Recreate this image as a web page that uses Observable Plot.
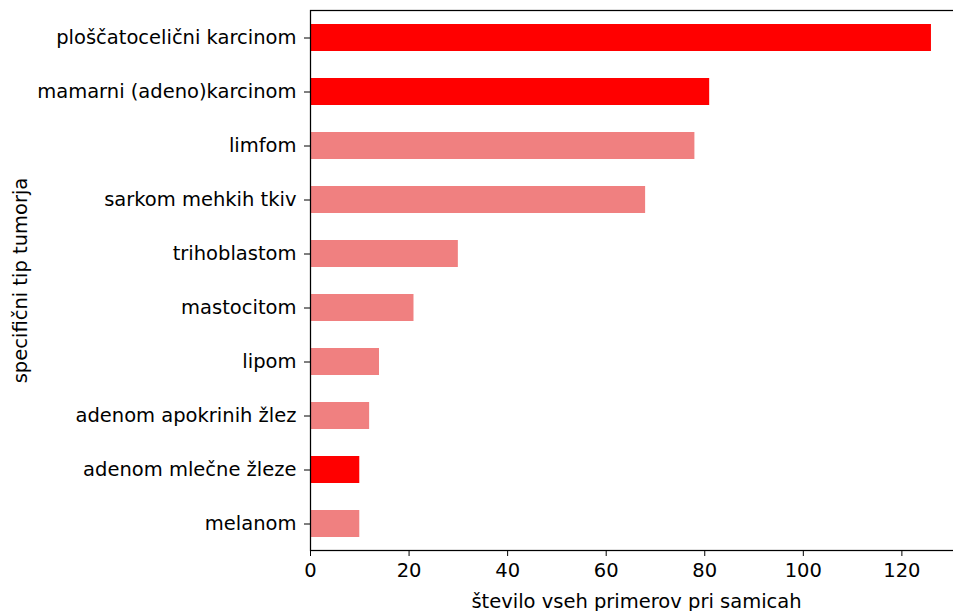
<!DOCTYPE html>
<html>
<head>
<meta charset="utf-8">
<script src="https://cdn.jsdelivr.net/npm/d3@7"></script>
<script src="https://cdn.jsdelivr.net/npm/@observablehq/plot@0.6"></script>
<style>
  html, body { margin: 0; padding: 0; background: #fff; overflow: hidden; }
  #chart { width: 953px; height: 611px; overflow: hidden; }
  #chart svg { max-width: none !important; display: block; }
</style>
</head>
<body>
<div id="chart"></div>
<script>
const categories = [
  "ploščatocelični karcinom",
  "mamarni (adeno)karcinom",
  "limfom",
  "sarkom mehkih tkiv",
  "trihoblastom",
  "mastocitom",
  "lipom",
  "adenom apokrinih žlez",
  "adenom mlečne žleze",
  "melanom"
];
const counts = [126, 81, 78, 68, 30, 21, 14, 12, 10, 10];
const highlighted = [true, true, false, false, false, false, false, false, true, false];
const xTicks = [0, 20, 40, 60, 80, 100, 120];
const xLabel = "število vseh primerov pri samicah";
const yLabel = "specifični tip tumorja";

const data = categories.map((c, i) => ({
  cat: c,
  value: counts[i],
  color: highlighted[i] ? "#ff0000" : "#f08080"
}));

const chart = Plot.plot({
  width: 963,
  height: 611,
  marginTop: 10,
  marginBottom: 61,
  marginLeft: 310,
  marginRight: 1,
  style: {fontFamily: "DejaVu Sans", fontSize: "19.5px", color: "#000", background: "#fff", maxWidth: "none"},
  x: {domain: [0, 132.3], ticks: xTicks, tickSize: 6, tickPadding: 7, label: xLabel, labelAnchor: "center", labelOffset: 57, labelArrow: "none"},
  y: {domain: categories, paddingInner: 0.5, paddingOuter: 0.25, align: 0.5, tickSize: 6, tickPadding: 8, label: yLabel, labelAnchor: "center", labelOffset: 297},
  marks: [
    Plot.barX(data, {x: "value", y: "cat", fill: "color"}),
    Plot.frame({stroke: "#000", strokeWidth: 1.25})
  ]
});
document.getElementById("chart").appendChild(chart);
</script>
</body>
</html>
